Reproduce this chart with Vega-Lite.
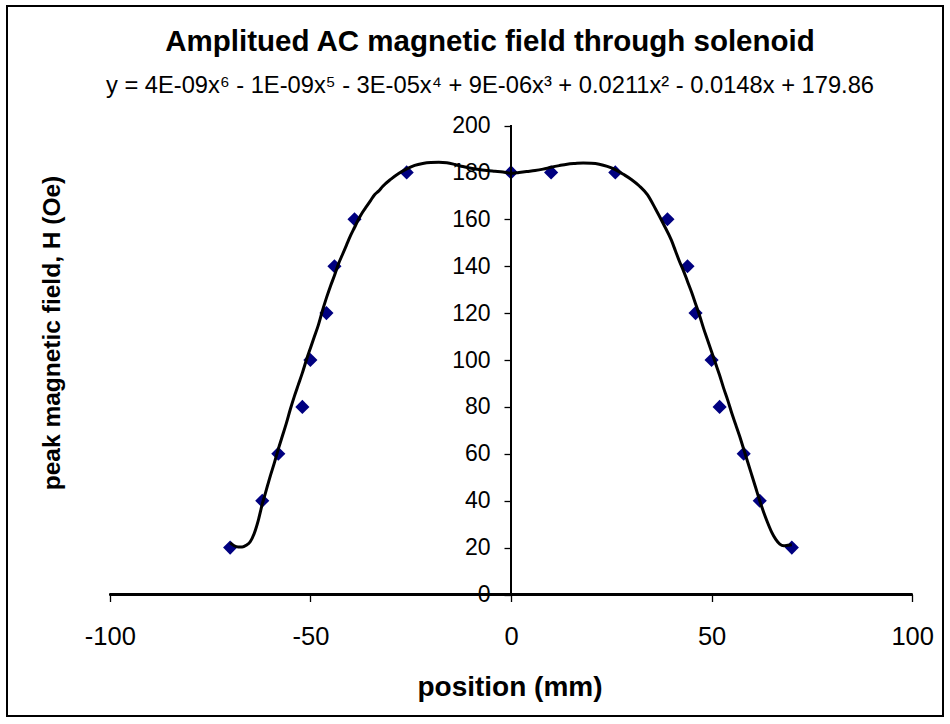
{
  "$schema": "https://vega.github.io/schema/vega-lite/v6.json",
  "width": 936,
  "height": 710,
  "autosize": "none",
  "padding": {"left": 7, "top": 6, "right": 7, "bottom": 8},
  "background": "white",
  "title": {
    "text": "Amplitued AC magnetic field through solenoid",
    "subtitle": "y = 4E-09x⁶ - 1E-09x⁵ - 3E-05x⁴ + 9E-06x³ + 0.0211x² - 0.0148x + 179.86",
    "anchor": "middle",
    "frame": "group",
    "font": "Liberation Sans",
    "fontSize": 29.5,
    "fontWeight": "bold",
    "color": "black",
    "subtitleFont": "Liberation Sans",
    "subtitleFontSize": 23.7,
    "subtitleColor": "black",
    "subtitlePadding": 17,
    "offset": 0,
    "dx": 15,
    "dy": 93
  },
  "datasets": {
    "points": [
      {"pos": -70, "H": 20}, {"pos": -62, "H": 40}, {"pos": -58, "H": 60}, {"pos": -52, "H": 80},
      {"pos": -50, "H": 100}, {"pos": -46, "H": 120}, {"pos": -44, "H": 140}, {"pos": -39, "H": 160},
      {"pos": -26, "H": 180}, {"pos": 0, "H": 180}, {"pos": 10, "H": 180}, {"pos": 26, "H": 180},
      {"pos": 39, "H": 160}, {"pos": 44, "H": 140}, {"pos": 46, "H": 120}, {"pos": 50, "H": 100},
      {"pos": 52, "H": 80}, {"pos": 58, "H": 60}, {"pos": 62, "H": 40}, {"pos": 70, "H": 20}
    ],
    "curve": [
      {"pos": -70, "H": 22}, {"pos": -69, "H": 20.8}, {"pos": -68, "H": 20.3}, {"pos": -67, "H": 20.3},
      {"pos": -66, "H": 21}, {"pos": -65, "H": 22.5}, {"pos": -64, "H": 26}, {"pos": -63, "H": 31.5},
      {"pos": -62, "H": 38.5}, {"pos": -61, "H": 44.5}, {"pos": -60, "H": 50.5}, {"pos": -59, "H": 56},
      {"pos": -58, "H": 62}, {"pos": -57, "H": 67.5}, {"pos": -56, "H": 73}, {"pos": -55, "H": 79},
      {"pos": -54, "H": 84.5}, {"pos": -53, "H": 89.5}, {"pos": -52, "H": 94.5}, {"pos": -51, "H": 100},
      {"pos": -50, "H": 105}, {"pos": -49, "H": 110}, {"pos": -48, "H": 115}, {"pos": -47, "H": 121},
      {"pos": -46, "H": 126.5}, {"pos": -45, "H": 131.5}, {"pos": -44, "H": 136}, {"pos": -43, "H": 141},
      {"pos": -42, "H": 145}, {"pos": -41, "H": 149}, {"pos": -40, "H": 153}, {"pos": -39, "H": 156.5},
      {"pos": -38, "H": 160}, {"pos": -37, "H": 163}, {"pos": -36, "H": 165.5}, {"pos": -35, "H": 168},
      {"pos": -34, "H": 170.5}, {"pos": -33, "H": 172}, {"pos": -32, "H": 174}, {"pos": -30, "H": 177},
      {"pos": -28, "H": 179.5}, {"pos": -26, "H": 181.5}, {"pos": -24, "H": 183}, {"pos": -22, "H": 183.8},
      {"pos": -20, "H": 184.2}, {"pos": -18, "H": 184.3}, {"pos": -16, "H": 184.1}, {"pos": -14, "H": 183.4},
      {"pos": -12, "H": 182.5}, {"pos": -10, "H": 181.8}, {"pos": -8, "H": 181.2}, {"pos": -6, "H": 180.8},
      {"pos": -4, "H": 180.5}, {"pos": -2, "H": 180.2}, {"pos": 0, "H": 179.6}, {"pos": 2, "H": 180},
      {"pos": 4, "H": 180.4}, {"pos": 6, "H": 180.8}, {"pos": 8, "H": 181.4}, {"pos": 10, "H": 182.2},
      {"pos": 12, "H": 182.9}, {"pos": 14, "H": 183.5}, {"pos": 16, "H": 183.8}, {"pos": 18, "H": 184},
      {"pos": 20, "H": 183.9}, {"pos": 22, "H": 183.5}, {"pos": 24, "H": 182.6}, {"pos": 26, "H": 181.2},
      {"pos": 28, "H": 179.2}, {"pos": 30, "H": 177}, {"pos": 32, "H": 174.2}, {"pos": 34, "H": 170.5},
      {"pos": 36, "H": 164.5}, {"pos": 38, "H": 158}, {"pos": 40, "H": 151}, {"pos": 41, "H": 146.5},
      {"pos": 42, "H": 142}, {"pos": 43, "H": 138}, {"pos": 44, "H": 133.5}, {"pos": 45, "H": 129},
      {"pos": 46, "H": 124}, {"pos": 47, "H": 119}, {"pos": 48, "H": 113.5}, {"pos": 49, "H": 108.5},
      {"pos": 50, "H": 103.5}, {"pos": 51, "H": 98.5}, {"pos": 52, "H": 93.5}, {"pos": 53, "H": 88},
      {"pos": 54, "H": 83}, {"pos": 55, "H": 77.5}, {"pos": 56, "H": 72.5}, {"pos": 57, "H": 67.5},
      {"pos": 58, "H": 62}, {"pos": 59, "H": 56.5}, {"pos": 60, "H": 51}, {"pos": 61, "H": 45.5},
      {"pos": 62, "H": 40}, {"pos": 63, "H": 35}, {"pos": 64, "H": 30.5}, {"pos": 65, "H": 26.5},
      {"pos": 66, "H": 23.5}, {"pos": 67, "H": 21.5}, {"pos": 68, "H": 20.8}, {"pos": 69, "H": 21},
      {"pos": 70, "H": 21.2}
    ]
  },
  "layer": [
    {
      "data": {"name": "points"},
      "mark": {"type": "point", "shape": "diamond", "filled": true, "color": "#000080", "size": 200, "opacity": 1},
      "encoding": {
        "x": {
          "field": "pos", "type": "quantitative",
          "scale": {"domain": [-125.62, 107.68], "nice": false, "zero": false},
          "axis": {
            "title": "position (mm)",
            "values": [-100, -50, 0, 50, 100],
            "labelExpr": "'' + datum.value",
            "offset": -121.5,
            "domain": false,
            "grid": false,
            "ticks": true,
            "tickSize": 7,
            "tickColor": "black",
            "tickWidth": 1.3,
            "labelFont": "Liberation Sans",
            "labelFontSize": 25.5,
            "labelColor": "black",
            "labelPadding": 23,
            "labelFlush": false,
            "labelOverlap": false,
            "titleFont": "Liberation Sans",
            "titleFontSize": 28,
            "titleFontWeight": "bold",
            "titleColor": "black",
            "titleBaseline": "alphabetic",
            "titleAlign": "center",
            "titleX": 502.5,
            "titleY": 100.5
          }
        },
        "y": {
          "field": "H", "type": "quantitative",
          "scale": {"domain": [-51.81, 250.96], "nice": false, "zero": false},
          "axis": {
            "title": "peak magnetic field, H (Oe)",
            "values": [0, 20, 40, 60, 80, 100, 120, 140, 160, 180, 200],
            "offset": -504,
            "domain": false,
            "grid": false,
            "ticks": true,
            "tickSize": 7,
            "tickColor": "black",
            "tickWidth": 1.3,
            "labelFont": "Liberation Sans",
            "labelFontSize": 23,
            "labelColor": "black",
            "labelPadding": 14,
            "labelFlush": false,
            "labelOverlap": false,
            "titleFont": "Liberation Sans",
            "titleFontSize": 24.5,
            "titleFontWeight": "bold",
            "titleColor": "black",
            "titleAngle": -90,
            "titleBaseline": "alphabetic",
            "titleAlign": "center",
            "titleX": -452,
            "titleY": 326.5
          }
        }
      }
    },
    {
      "data": {"name": "points"},
      "mark": {"type": "rule", "color": "black", "strokeWidth": 1.5},
      "encoding": {
        "x": {"datum": -100, "type": "quantitative"},
        "x2": {"datum": 100},
        "y": {"datum": 0, "type": "quantitative"}
      }
    },
    {
      "data": {"name": "points"},
      "mark": {"type": "rule", "color": "black", "strokeWidth": 1.5},
      "encoding": {
        "x": {"datum": 0, "type": "quantitative"},
        "y": {"datum": 0, "type": "quantitative"},
        "y2": {"datum": 200}
      }
    },
    {
      "data": {"name": "curve"},
      "mark": {"type": "line", "color": "black", "strokeWidth": 3, "interpolate": "monotone"},
      "encoding": {
        "x": {"field": "pos", "type": "quantitative"},
        "y": {"field": "H", "type": "quantitative"}
      }
    }
  ],
  "config": {
    "view": {"stroke": "black", "strokeWidth": 2},
    "axis": {"grid": false}
  }
}
